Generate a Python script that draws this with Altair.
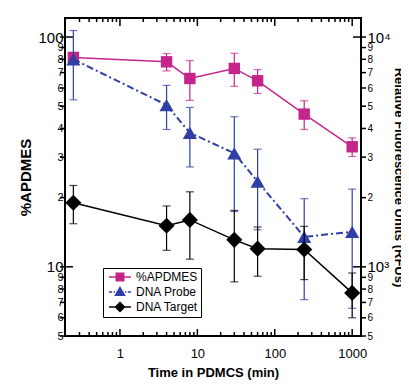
import altair as alt
import pandas as pd

# ---------------- data ----------------
times = [0.25, 4, 8, 30, 60, 240, 1000]
apdmes = [81.5, 78, 66, 73, 64.5, 46.2, 33.3]
apdmes_err = [3, 6.8, 13, 12, 7.7, 6.6, 3.1]
probe = [8000, 5060, 3830, 3120, 2350, 1350, 1420]
probe_err = [2670, 1100, 1110, 1380, 900, 630, 760]
target = [1900, 1510, 1600, 1310, 1200, 1190, 770]
target_err = [360, 330, 520, 450, 290, 310, 170]

series_names = ["%APDMES", "DNA Probe", "DNA Target"]
series_colors = ["#C4258A", "#2F3FA6", "#000000"]

x_labels = [1, 10, 100, 1000]
x_minor = [0.3, 0.4, 0.5, 0.6, 0.7, 0.8, 0.9, 2, 3, 4, 5, 6, 7, 8, 9,
           20, 30, 40, 50, 60, 70, 80, 90, 200, 300, 400, 500, 600, 700, 800, 900]
left_values = [5, 6, 7, 8, 9, 10, 20, 30, 40, 50, 60, 70, 80, 90, 100]
left_major = [10, 100]
left_minor = [5, 6, 7, 8, 9, 20, 30, 40, 50, 60, 70, 80, 90]
right_values = [500, 600, 700, 800, 900, 1000, 2000, 3000, 4000, 5000, 6000,
                7000, 8000, 9000, 10000]
right_major = [1000, 10000]
right_minor = [500, 600, 700, 800, 900, 2000, 3000, 4000, 5000, 6000, 7000, 8000, 9000]

W, H = 296, 318
FONT = "Liberation Sans"


def table(vals, errs):
    return pd.DataFrame({
        "t": times, "v": vals,
        "lo": [v - e for v, e in zip(vals, errs)],
        "hi": [v + e for v, e in zip(vals, errs)],
    })


apd_df = table(apdmes, apdmes_err)
probe_df = table(probe, probe_err)
target_df = table(target, target_err)

xscale = alt.Scale(type="log", domain=[0.195, 1300], nice=False)
ylscale = alt.Scale(type="log", domain=[5, 121], nice=False)
yrscale = alt.Scale(type="log", domain=[500, 12100], nice=False)

NB = "\u00a0"
xaxis = alt.Axis(values=x_labels, ticks=False, tickSize=0, domain=False, grid=False,
                 labelExpr="'' + datum.value", labelFontSize=13, labelPadding=11,
                 title="Time in PDMCS (min)", titleFontSize=13, titleFontWeight="bold",
                 titlePadding=6)
yl_axis = alt.Axis(values=left_values, ticks=False, tickSize=0, domain=False, grid=False,
                   labelExpr=f"datum.value == 100 ? '100{NB*2}' : datum.value == 10 ? '10{NB*3}' : datum.value < 10 ? '' + datum.value : '' + datum.value / 10",
                   labelFontSize={"condition": {"test": "datum.value == 10 || datum.value == 100", "value": 15}, "value": 11},
                   labelPadding=2, labelOverlap=False,
                   title="%APDMES", titleFontSize=15, titleFontWeight="bold", titlePadding=4)
yr_axis = alt.Axis(orient="right", values=right_values, ticks=False, tickSize=0, domain=False,
                   grid=False,
                   labelExpr=f"datum.value == 10000 ? '{NB}10⁴' : datum.value == 1000 ? '{NB}10³' : datum.value < 1000 ? '' + datum.value / 100 : '' + datum.value / 1000",
                   labelFontSize={"condition": {"test": "datum.value == 1000 || datum.value == 10000", "value": 15}, "value": 10},
                   labelPadding=6, labelOverlap=False,
                   title="Relative Fluorescence Units (RFUs)", titleFontSize=13,
                   titleFontWeight="bold", titlePadding=1)


def X(field="t"):
    return alt.X(f"{field}:Q", scale=xscale, axis=xaxis)


def YL(field):
    return alt.Y(f"{field}:Q", scale=ylscale, axis=yl_axis)


def YR(field):
    return alt.Y(f"{field}:Q", scale=yrscale, axis=yr_axis)


def series_layers(df, Yf, color, shape, size, dash=None, lw=1.5):
    base = alt.Chart(df)
    err = base.mark_rule(color=color, strokeWidth=1.2).encode(x=X(), y=Yf("lo"), y2="hi")
    cap_lo = base.mark_tick(color=color, orient="horizontal", size=8, thickness=1.2).encode(
        x=X(), y=Yf("lo"))
    cap_hi = base.mark_tick(color=color, orient="horizontal", size=8, thickness=1.2).encode(
        x=X(), y=Yf("hi"))
    line_kw = dict(color=color, strokeWidth=lw)
    if dash:
        line_kw["strokeDash"] = dash
    line = base.mark_line(**line_kw).encode(x=X(), y=Yf("v"))
    pts = base.mark_point(filled=True, shape=shape, size=size, color=color, opacity=1).encode(
        x=X(), y=Yf("v"))
    return [err, cap_lo, cap_hi, line, pts]


# frame ticks (inward on bottom/top, mixed on sides)
xmin_df = pd.DataFrame({"v": x_minor})
xmaj_df = pd.DataFrame({"v": x_labels})
tick_style = dict(color="black", strokeWidth=1.5)
frame_ticks = [
    alt.Chart(xmin_df).mark_rule(**tick_style).encode(x=X("v"), y=alt.value(H), y2=alt.value(H - 4)),
    alt.Chart(xmaj_df).mark_rule(**tick_style).encode(x=X("v"), y=alt.value(H), y2=alt.value(H - 7)),
    alt.Chart(xmin_df).mark_rule(**tick_style).encode(x=X("v"), y=alt.value(0), y2=alt.value(4)),
    alt.Chart(xmaj_df).mark_rule(**tick_style).encode(x=X("v"), y=alt.value(0), y2=alt.value(8)),
    alt.Chart(pd.DataFrame({"v": left_minor})).mark_rule(**tick_style).encode(
        y=YL("v"), x=alt.value(0), x2=alt.value(-5)),
    alt.Chart(pd.DataFrame({"v": left_major})).mark_rule(**tick_style).encode(
        y=YL("v"), x=alt.value(-5), x2=alt.value(8)),
]
right_ticks = [
    alt.Chart(pd.DataFrame({"v": right_minor})).mark_rule(**tick_style).encode(
        y=YR("v"), x=alt.value(W), x2=alt.value(W + 5)),
    alt.Chart(pd.DataFrame({"v": right_major})).mark_rule(**tick_style).encode(
        y=YR("v"), x=alt.value(W - 8), x2=alt.value(W + 5)),
]

# legend (line + marker symbols); symbol box is 12px, line spans ~22px
legend_paths = [
    "M-1.83,0H1.83M-0.62,-0.62H0.62V0.62H-0.62Z",
    "M-1.83,0H-1.3M-1.05,0H-0.85M-0.6,0H0.6M0.85,0H1.05M1.3,0H1.83M0,-0.75L0.75,0.55H-0.75Z",
    "M-1.83,0H1.83M0,-0.75L0.75,0L0,0.75L-0.75,0Z",
]
leg = alt.Legend(orient="none", legendX=38, legendY=250, title=None,
                 strokeColor="black", fillColor="white", padding=2,
                 labelFont=FONT, labelFontSize=12, labelColor="black",
                 symbolSize=144, symbolStrokeWidth=1.5, symbolOffset=8,
                 rowPadding=0, labelOffset=9)
legend_layer = alt.Chart(pd.DataFrame({"series": series_names})).transform_filter(
    "false").mark_point(filled=False, opacity=1).encode(
    shape=alt.Shape("series:N", scale=alt.Scale(domain=series_names, range=legend_paths), legend=leg),
    fill=alt.Fill("series:N", scale=alt.Scale(domain=series_names, range=series_colors), legend=leg),
    stroke=alt.Stroke("series:N", scale=alt.Scale(domain=series_names, range=series_colors), legend=leg),
)

left_group = alt.layer(
    *frame_ticks,
    *series_layers(apd_df, YL, series_colors[0], "square", 130),
    legend_layer,
)
right_group = alt.layer(
    *series_layers(probe_df, YR, series_colors[1], "triangle-up", 200, dash=[7, 3, 2, 3], lw=2),
    *series_layers(target_df, YR, series_colors[2], "diamond", 260),
    *right_ticks,
)

chart = alt.layer(left_group, right_group).resolve_scale(y="independent").properties(
    width=W, height=H,
    padding={"left": 57, "top": 10, "right": 40, "bottom": 47},
    autosize="none",
).configure_view(stroke="black", strokeWidth=2).configure_axis(
    labelFont=FONT, titleFont=FONT, labelColor="black", titleColor="black"
)

chart.save("out.html", embed_options={"renderer": "svg", "actions": False})
